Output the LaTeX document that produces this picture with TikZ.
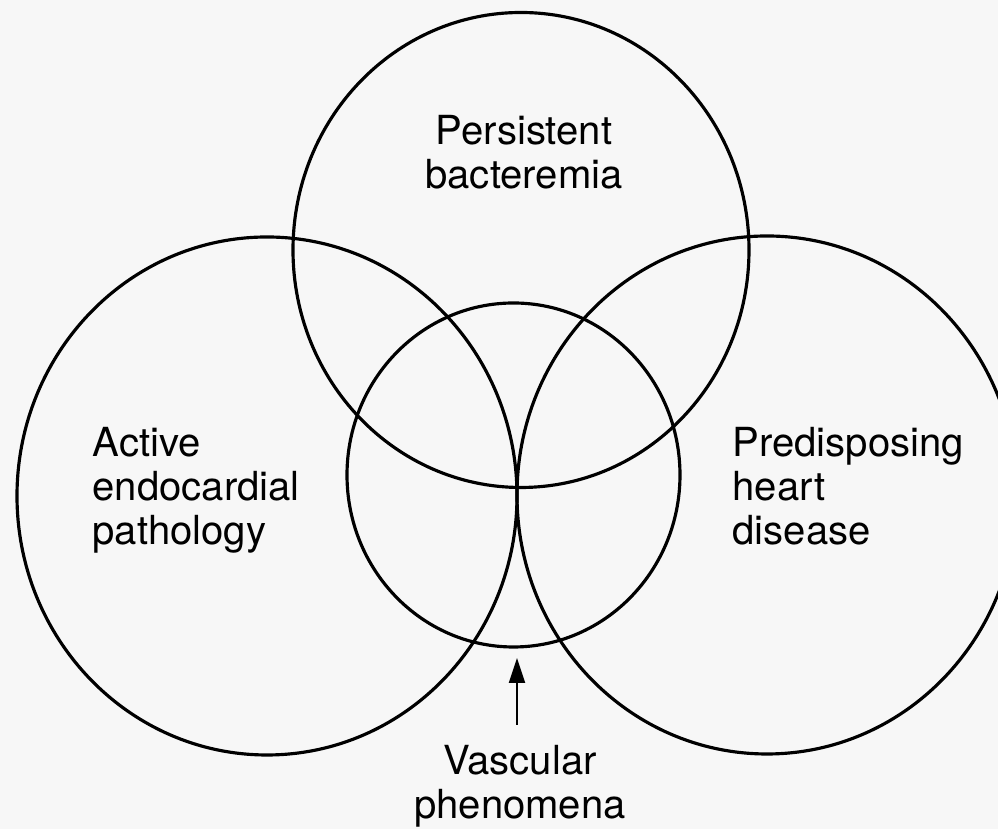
\documentclass[tikz,border=0pt]{standalone}
\usepackage{fontspec}
\setmainfont{TeX Gyre Heros}
\usetikzlibrary{arrows.meta}

\begin{document}
\begin{tikzpicture}[>={Triangle[length=2.5mm,width=1.6mm]},
  ring/.style={line width=0.9pt},
  lbl/.style={inner sep=0pt, align=left, font=\fontsize{11.4}{12.5}\selectfont}]
  % Page
  \fill[black!3] (0,0) rectangle (9.98,8.29);
  \useasboundingbox (0,0) rectangle (9.98,8.29);
  \clip (0,0) rectangle (9.98,8.29);

  % Centres
  \coordinate (T) at (5.21,5.79);
  \coordinate (L) at (2.67,3.33);
  \coordinate (R) at (7.67,3.34);
  \coordinate (M) at (5.135,3.54);

  % Circles
  \draw[ring] (T) ellipse (2.28 and 2.375);
  \draw[ring] (L) ellipse (2.50 and 2.59);
  \draw[ring] (R) ellipse (2.50 and 2.59);
  \draw[ring] (M) ellipse (1.665 and 1.72);

  % Labels
  \node[lbl, align=center, anchor=north] (bact) at (5.24,7.14) {Persistent\\bacteremia};
  \node[lbl, anchor=north west] (endo) at (0.92,4.02) {Active\\endocardial\\pathology};
  \node[lbl, anchor=north west] (heart) at (7.32,4.02) {Predisposing\\heart\\disease};
  \node[lbl, align=center, anchor=north] (vasc) at (5.20,0.84) {Vascular\\phenomena};

  % Arrow to the vascular region
  \coordinate (tip) at (5.17,1.71);
  \draw[->, line width=0.6pt, shorten <=0.2cm] (vasc.north -| tip) -- (tip);
\end{tikzpicture}
\end{document}
